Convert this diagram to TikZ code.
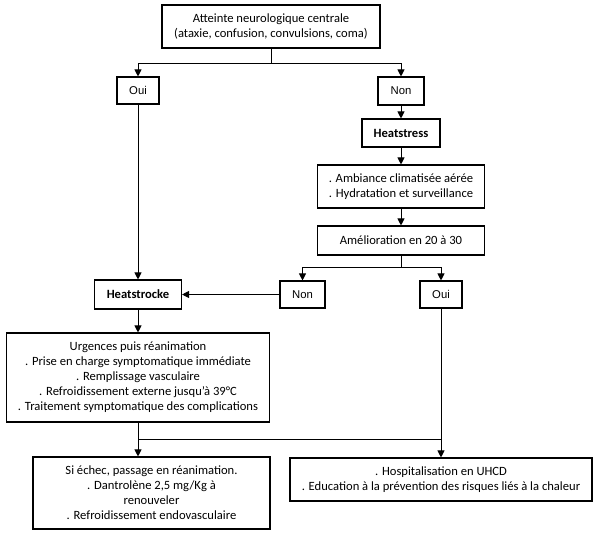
\documentclass[tikz,border=0pt]{standalone}
\usepackage{fontspec}
\setmainfont{Carlito}
\newfontfamily\arialfont{Liberation Sans}
\usetikzlibrary{arrows.meta}
\begin{document}
\begin{tikzpicture}[x=1pt,y=-1pt,
  box/.style={draw,line width=1.1pt,align=center,inner sep=0pt,
    font=\fontsize{12.6}{14.5}\selectfont},
  yn/.style={box,font=\arialfont\fontsize{11.3}{13}\selectfont},
  bbox/.style={box,font=\bfseries\fontsize{12.6}{14.5}\selectfont},
  arr/.style={line width=0.9pt,-{Triangle[width=7pt,length=7pt]}},
  ln/.style={line width=0.9pt}]
\useasboundingbox (0,0) rectangle (600,536);
\node[box,minimum width=218pt,minimum height=43pt] (top) at (271,26.5)
  {Atteinte neurologique centrale\\(ataxie, confusion, convulsions, coma)};
\node[yn,minimum width=42pt,minimum height=27pt] (oui1) at (138,90.5) {Oui};
\node[yn,minimum width=46pt,minimum height=28pt] (non1) at (401,91) {Non};
\node[bbox,minimum width=78pt,minimum height=28pt] (hs) at (401,133) {Heatstress};
\node[box,minimum width=167pt,minimum height=43pt] (amb) at (401,186.5)
  {. Ambiance climatisée aérée\\. Hydratation et surveillance};
\node[box,minimum width=167pt,minimum height=29pt] (ame) at (401,240.5) {Amélioration en 20 à 30};
\node[yn,minimum width=45pt,minimum height=27pt] (non2) at (302.5,294.5) {Non};
\node[yn,minimum width=42pt,minimum height=27pt] (oui2) at (441,294.5) {Oui};
\node[bbox,minimum width=87pt,minimum height=29pt] (hsk) at (138,294.5) {Heatstrocke};
\node[box,font=\fontsize{12.6}{15}\selectfont,minimum width=263pt,minimum height=89pt] (urg) at (138,377.5)
  {Urgences puis réanimation\\. Prise en charge symptomatique immédiate\\. Remplissage vasculaire\\. Refroidissement externe jusqu'à 39°C\\. Traitement symptomatique des complications};
\node[box,font=\fontsize{12.6}{15}\selectfont,minimum width=237pt,minimum height=72pt] (si) at (151.5,493)
  {Si échec, passage en réanimation.\\. Dantrolène 2,5 mg/Kg à\\renouveler\\. Refroidissement endovasculaire};
\node[box,minimum width=302pt,minimum height=43pt] (hosp) at (441,479.5)
  {. Hospitalisation en UHCD\\. Education à la prévention des risques liés à la chaleur};
\coordinate (j1) at (271,63);
\coordinate (j2) at (401,267);
\coordinate (j3) at (138,439);
\draw[ln] (top.south) -- (j1);
\draw[arr] (j1) -| (oui1.north);
\draw[arr] (j1) -| (non1.north);
\draw[arr] (non1.south) -- (hs.north);
\draw[arr] (hs.south) -- (amb.north);
\draw[arr] (amb.south) -- (ame.north);
\draw[ln] (ame.south) -- (j2);
\draw[arr] (j2) -| (non2.north);
\draw[arr] (j2) -| (oui2.north);
\draw[arr] (non2.west) -- (hsk.east);
\draw[arr] (oui1.south) -- (hsk.north);
\draw[arr] (hsk.south) -- (urg.north);
\draw[arr] (urg.south) -- (urg.south |- si.north);
\draw[arr] (oui2.south) -- (oui2.south |- hosp.north);
\draw[ln] (j3) -- (j3 -| oui2.south);
\end{tikzpicture}
\end{document}
